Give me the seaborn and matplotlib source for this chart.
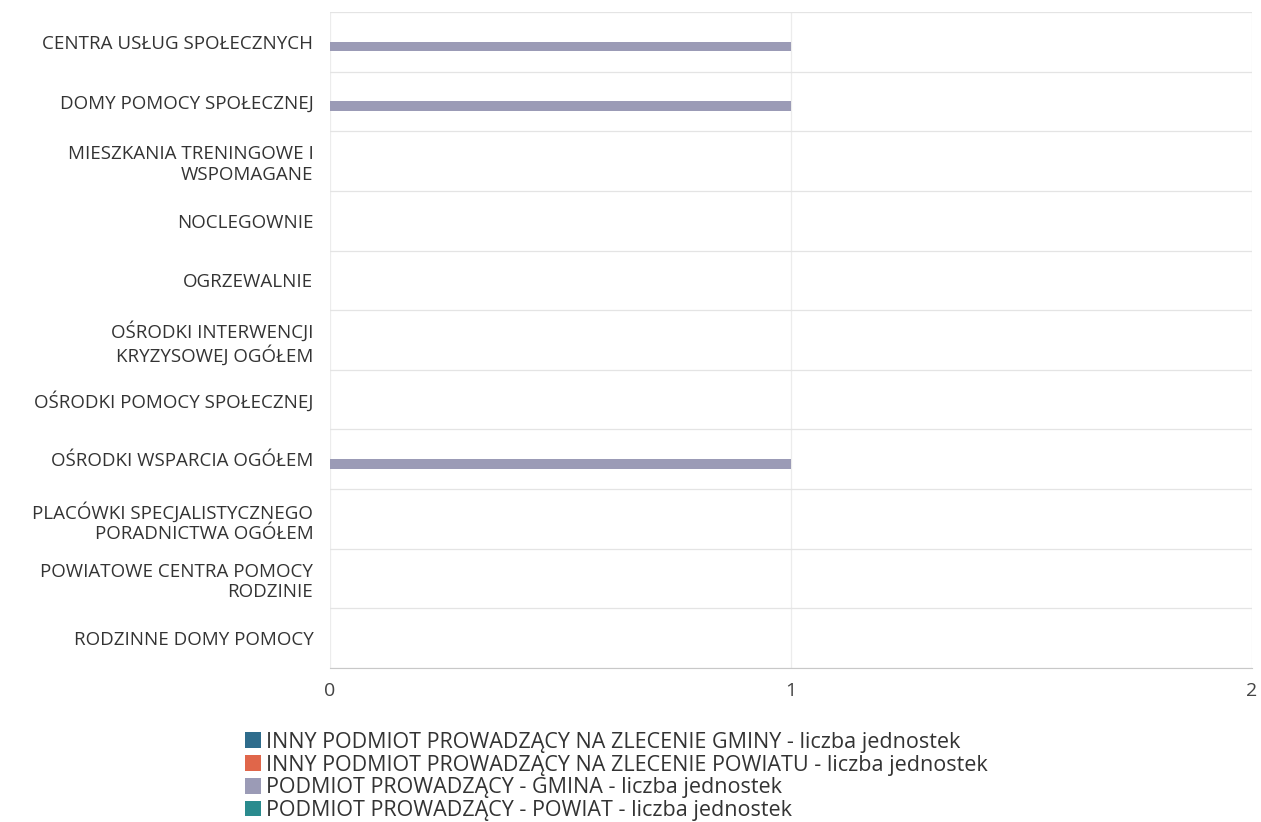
import numpy as np
import pandas as pd
import matplotlib
matplotlib.use("Agg")
import matplotlib.pyplot as plt
import seaborn as sns

# ----------------------------
# DATA
# ----------------------------
categories = [
    "CENTRA USŁUG SPOŁECZNYCH",
    "DOMY POMOCY SPOŁECZNEJ",
    "MIESZKANIA TRENINGOWE I\nWSPOMAGANE",
    "NOCLEGOWNIE",
    "OGRZEWALNIE",
    "OŚRODKI INTERWENCJI\nKRYZYSOWEJ OGÓŁEM",
    "OŚRODKI POMOCY SPOŁECZNEJ",
    "OŚRODKI WSPARCIA OGÓŁEM",
    "PLACÓWKI SPECJALISTYCZNEGO\nPORADNICTWA OGÓŁEM",
    "POWIATOWE CENTRA POMOCY\nRODZINIE",
    "RODZINNE DOMY POMOCY",
]

series_names = [
    "INNY PODMIOT PROWADZĄCY NA ZLECENIE GMINY - liczba jednostek",
    "INNY PODMIOT PROWADZĄCY NA ZLECENIE POWIATU - liczba jednostek",
    "PODMIOT PROWADZĄCY - GMINA - liczba jednostek",
    "PODMIOT PROWADZĄCY - POWIAT - liczba jednostek",
]

inny_gminy = [0, 0, 0, 0, 0, 0, 0, 0, 0, 0, 0]
inny_powiatu = [0, 0, 0, 0, 0, 0, 0, 0, 0, 0, 0]
gmina = [1, 1, 0, 0, 0, 0, 0, 1, 0, 0, 0]
powiat = [0, 0, 0, 0, 0, 0, 0, 0, 0, 0, 0]

colors = ["#2e6c8c", "#e0664a", "#9b9bb6", "#2a8b8e"]

rows = []
for name, vals in zip(series_names, [inny_gminy, inny_powiatu, gmina, powiat]):
    for cat, v in zip(categories, vals):
        rows.append({"kategoria": cat, "seria": name, "wartosc": v})
df = pd.DataFrame(rows)

# ----------------------------
# PLOT
# ----------------------------
sns.set_style("white")
plt.rcParams["font.family"] = ["Open Sans", "DejaVu Sans"]

fig = plt.figure(figsize=(12.61, 8.22), dpi=100)
ax = fig.add_axes([0.2617, 0.1873, 0.7312, 0.7981])

sns.barplot(data=df, y="kategoria", x="wartosc", hue="seria", orient="h",
            order=categories, hue_order=series_names, palette=colors,
            width=0.64, dodge=True, ax=ax, legend=True, saturation=1,
            linewidth=0)

ax.set_xlim(0, 2)
ax.set_ylim(len(categories) - 0.5, -0.5)
ax.set_xticks([0, 1, 2])
ax.set_xlabel("")
ax.set_ylabel("")
ax.tick_params(axis="x", length=0, pad=10, labelsize=14, colors="#444444")
ax.tick_params(axis="y", length=0, pad=12, labelsize=13.5, colors="#333333")
for lbl in ax.get_yticklabels():
    lbl.set_horizontalalignment("right")
    lbl.set_multialignment("right")

ax.set_yticks(np.arange(len(categories) + 1) - 0.5, minor=True)
ax.tick_params(axis="y", which="minor", length=0)
ax.grid(axis="y", which="minor", color="#e4e4e4", linewidth=0.9)
ax.grid(axis="x", which="major", color="#ececec", linewidth=0.9)
ax.grid(axis="y", which="major", visible=False)
ax.set_axisbelow(True)

for side in ["top", "right", "left"]:
    ax.spines[side].set_visible(False)
ax.spines["bottom"].set_color("#c8c8c8")

handles, labels = ax.get_legend_handles_labels()
ax.get_legend().remove()
fig.legend(handles, labels, loc="upper left", bbox_to_anchor=(0.182, 0.128),
           frameon=False, fontsize=15.5, handlelength=0.75, handleheight=0.75,
           handletextpad=0.25, labelspacing=0.08, labelcolor="#333333",
           borderpad=0.2)

fig.savefig("out.png", dpi=100)
